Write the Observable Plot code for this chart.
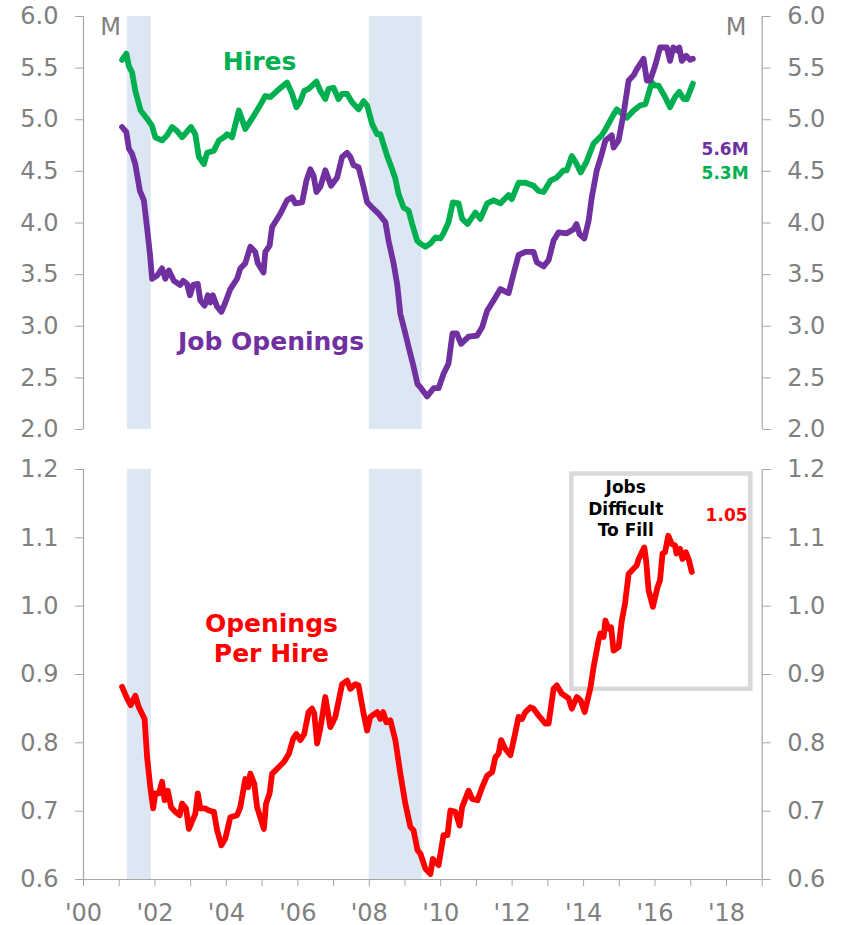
<!DOCTYPE html>
<html>
<head>
<meta charset="utf-8">
<script src="https://cdn.jsdelivr.net/npm/d3@7"></script>
<script src="https://cdn.jsdelivr.net/npm/@observablehq/plot@0.6"></script>
<style>
  html, body { margin: 0; padding: 0; background: #fff; }
  #chart { width: 846px; }
  #chart svg { display: block; overflow: visible; }
</style>
</head>
<body>
<div id="chart"></div>
<script>
// ---- Data ----
const recessions = [[2001.23, 2001.90], [2008.0, 2009.48]];

const hires = [
  [2001.08,5.58],[2001.20,5.64],[2001.27,5.52],[2001.36,5.46],[2001.45,5.28],[2001.60,5.09],[2001.78,5.01],[2001.92,4.94],
  [2002.01,4.83],[2002.20,4.80],[2002.34,4.85],[2002.48,4.93],[2002.62,4.89],[2002.76,4.83],[2003.01,4.93],[2003.13,4.86],
  [2003.23,4.64],[2003.37,4.57],[2003.46,4.68],[2003.65,4.70],[2003.79,4.80],[2003.93,4.83],[2004.02,4.86],[2004.16,4.83],
  [2004.35,5.09],[2004.53,4.91],[2004.77,5.04],[2004.91,5.12],[2005.09,5.23],[2005.23,5.22],[2005.42,5.28],[2005.70,5.36],
  [2005.84,5.25],[2005.96,5.12],[2006.07,5.18],[2006.18,5.28],[2006.30,5.30],[2006.40,5.33],[2006.52,5.37],[2006.63,5.28],
  [2006.77,5.20],[2006.86,5.30],[2007.00,5.31],[2007.14,5.20],[2007.24,5.25],[2007.38,5.25],[2007.52,5.17],[2007.70,5.10],
  [2007.84,5.18],[2007.94,5.14],[2008.08,4.96],[2008.22,4.86],[2008.31,4.86],[2008.50,4.65],[2008.64,4.52],[2008.73,4.43],
  [2008.82,4.28],[2008.96,4.15],[2009.10,4.12],[2009.20,3.99],[2009.34,3.83],[2009.43,3.80],[2009.57,3.77],[2009.71,3.80],
  [2009.85,3.86],[2009.99,3.85],[2010.08,3.90],[2010.22,4.01],[2010.34,4.20],[2010.50,4.19],[2010.60,4.04],[2010.75,3.99],
  [2010.97,4.10],[2011.11,4.04],[2011.30,4.19],[2011.48,4.22],[2011.67,4.19],[2011.90,4.27],[2011.99,4.23],[2012.18,4.39],
  [2012.37,4.39],[2012.60,4.36],[2012.74,4.31],[2012.88,4.30],[2013.07,4.41],[2013.25,4.44],[2013.44,4.51],[2013.53,4.51],
  [2013.67,4.65],[2013.81,4.57],[2013.92,4.49],[2014.09,4.60],[2014.28,4.77],[2014.51,4.85],[2014.65,4.93],[2014.82,5.04],
  [2014.93,5.10],[2015.07,5.06],[2015.21,5.02],[2015.40,5.09],[2015.59,5.14],[2015.73,5.15],[2015.91,5.36],[2016.00,5.33],
  [2016.10,5.33],[2016.28,5.22],[2016.42,5.12],[2016.56,5.22],[2016.68,5.27],[2016.80,5.20],[2016.89,5.20],[2016.98,5.28],
  [2017.06,5.35]
];

const openings = [
  [2001.08,4.93],[2001.20,4.88],[2001.27,4.72],[2001.36,4.67],[2001.45,4.57],[2001.58,4.31],[2001.69,4.22],[2001.78,3.95],
  [2001.86,3.70],[2001.92,3.46],[2002.06,3.49],[2002.20,3.56],[2002.29,3.46],[2002.39,3.54],[2002.53,3.44],[2002.71,3.40],
  [2002.79,3.44],[2002.90,3.41],[2002.98,3.30],[2003.07,3.40],[2003.20,3.41],[2003.27,3.25],[2003.39,3.20],[2003.48,3.30],
  [2003.55,3.23],[2003.62,3.30],[2003.74,3.19],[2003.86,3.14],[2003.97,3.23],[2004.11,3.36],[2004.30,3.46],[2004.39,3.56],
  [2004.53,3.61],[2004.67,3.77],[2004.81,3.72],[2004.88,3.61],[2005.04,3.52],[2005.09,3.72],[2005.21,3.78],[2005.28,3.96],
  [2005.51,4.09],[2005.70,4.22],[2005.84,4.25],[2005.93,4.19],[2006.12,4.20],[2006.24,4.41],[2006.35,4.52],[2006.44,4.46],
  [2006.52,4.30],[2006.63,4.35],[2006.77,4.51],[2006.93,4.36],[2007.10,4.44],[2007.24,4.64],[2007.38,4.68],[2007.47,4.64],
  [2007.56,4.56],[2007.70,4.54],[2007.84,4.35],[2007.94,4.20],[2008.08,4.15],[2008.26,4.09],[2008.45,4.01],[2008.54,3.83],
  [2008.68,3.61],[2008.78,3.41],[2008.87,3.12],[2009.01,2.93],[2009.10,2.80],[2009.24,2.61],[2009.35,2.44],[2009.43,2.41],
  [2009.62,2.32],[2009.80,2.40],[2009.94,2.40],[2010.08,2.54],[2010.22,2.64],[2010.33,2.93],[2010.45,2.93],[2010.57,2.83],
  [2010.78,2.90],[2011.02,2.91],[2011.16,2.99],[2011.30,3.15],[2011.48,3.25],[2011.67,3.36],[2011.90,3.32],[2012.04,3.51],
  [2012.18,3.69],[2012.37,3.72],[2012.60,3.72],[2012.69,3.62],[2012.88,3.58],[2013.02,3.64],[2013.16,3.83],[2013.30,3.91],
  [2013.53,3.90],[2013.72,3.94],[2013.80,3.99],[2013.89,3.89],[2014.02,3.85],[2014.14,4.02],[2014.23,4.25],[2014.37,4.51],
  [2014.51,4.67],[2014.61,4.80],[2014.79,4.85],[2014.84,4.73],[2014.98,4.80],[2015.12,5.06],[2015.26,5.38],[2015.40,5.43],
  [2015.49,5.49],[2015.68,5.59],[2015.77,5.38],[2015.86,5.38],[2016.00,5.52],[2016.14,5.70],[2016.33,5.70],[2016.42,5.57],
  [2016.51,5.70],[2016.63,5.67],[2016.68,5.70],[2016.75,5.57],[2016.87,5.62],[2016.98,5.58],[2017.06,5.59]
];

const ratio = [
  [2001.08,0.882],[2001.22,0.865],[2001.32,0.855],[2001.45,0.869],[2001.55,0.852],[2001.71,0.835],[2001.78,0.779],[2001.87,0.735],
  [2001.95,0.704],[2002.01,0.726],[2002.11,0.726],[2002.20,0.743],[2002.27,0.716],[2002.36,0.730],[2002.45,0.706],[2002.57,0.699],
  [2002.69,0.694],[2002.76,0.711],[2002.87,0.704],[2002.95,0.674],[2003.07,0.689],[2003.13,0.696],[2003.20,0.726],[2003.27,0.704],
  [2003.41,0.704],[2003.51,0.701],[2003.65,0.699],[2003.74,0.672],[2003.86,0.650],[2003.97,0.660],[2004.11,0.691],[2004.30,0.694],
  [2004.39,0.706],[2004.53,0.747],[2004.61,0.735],[2004.67,0.755],[2004.78,0.740],[2004.86,0.706],[2005.05,0.674],[2005.11,0.711],
  [2005.21,0.726],[2005.28,0.755],[2005.42,0.762],[2005.61,0.772],[2005.75,0.784],[2005.87,0.806],[2005.96,0.813],[2006.07,0.804],
  [2006.18,0.813],[2006.30,0.845],[2006.40,0.850],[2006.46,0.843],[2006.54,0.799],[2006.63,0.821],[2006.77,0.867],[2006.91,0.823],
  [2007.05,0.838],[2007.24,0.886],[2007.38,0.891],[2007.47,0.879],[2007.61,0.886],[2007.70,0.884],[2007.84,0.843],[2007.94,0.818],
  [2008.03,0.838],[2008.22,0.845],[2008.31,0.835],[2008.39,0.845],[2008.48,0.830],[2008.59,0.833],[2008.73,0.804],[2008.87,0.755],
  [2009.01,0.711],[2009.15,0.677],[2009.24,0.672],[2009.35,0.643],[2009.43,0.638],[2009.57,0.616],[2009.71,0.608],[2009.78,0.630],
  [2009.94,0.621],[2010.08,0.665],[2010.19,0.665],[2010.27,0.701],[2010.41,0.699],[2010.53,0.679],[2010.60,0.706],[2010.78,0.730],
  [2010.88,0.718],[2011.03,0.716],[2011.16,0.735],[2011.30,0.752],[2011.44,0.757],[2011.53,0.779],[2011.62,0.784],[2011.69,0.804],
  [2011.81,0.791],[2011.95,0.782],[2012.06,0.808],[2012.18,0.838],[2012.28,0.835],[2012.37,0.845],[2012.51,0.852],[2012.60,0.850],
  [2012.74,0.840],[2012.93,0.828],[2013.02,0.828],[2013.16,0.879],[2013.25,0.884],[2013.39,0.872],[2013.58,0.865],[2013.67,0.850],
  [2013.81,0.867],[2013.92,0.862],[2014.03,0.845],[2014.19,0.880],[2014.28,0.911],[2014.42,0.950],[2014.47,0.960],[2014.56,0.955],
  [2014.61,0.979],[2014.70,0.967],[2014.77,0.969],[2014.84,0.935],[2014.98,0.940],[2015.07,0.979],[2015.16,1.004],[2015.26,1.047],
  [2015.40,1.055],[2015.49,1.060],[2015.54,1.069],[2015.70,1.086],[2015.75,1.067],[2015.82,1.023],[2015.94,0.999],[2016.07,1.028],
  [2016.14,1.038],[2016.21,1.077],[2016.28,1.079],[2016.37,1.103],[2016.47,1.091],[2016.56,1.089],[2016.60,1.077],[2016.70,1.084],
  [2016.77,1.069],[2016.86,1.079],[2016.94,1.069],[2017.03,1.050]
];

const topTicks = [2.0, 2.5, 3.0, 3.5, 4.0, 4.5, 5.0, 5.5, 6.0];
const bottomTicks = [0.6, 0.7, 0.8, 0.9, 1.0, 1.1, 1.2];
const yearTicks = d3.range(2000, 2020);
const yearLabel = d => (d % 2 === 0 && d < 2019) ? "'" + String(d).slice(2) : "";

// ---- Styling ----
const GREEN = "#00b050", PURPLE = "#7030a0", RED = "#ff0000";
const SHADE = "#dde7f4", AXIS = "#a6a6a6", TEXT = "#808080";
const FONT = "DejaVu Sans";
const LW = 5.8;

const common = {
  width: 846,
  marginLeft: 83,
  marginRight: 84.3,
  x: {domain: [2000, 2019], axis: null},
  style: {fontFamily: FONT, background: "white", overflow: "visible"}
};

const yAxes = (ticks) => [
  Plot.axisY(ticks, {anchor: "left", tickSize: 8, tickPadding: 17, tickFormat: d3.format(".1f"),
    stroke: AXIS, fill: TEXT, fontSize: 24}),
  Plot.axisY(ticks, {anchor: "right", tickSize: 8, tickPadding: 17, tickFormat: d3.format(".1f"),
    stroke: AXIS, fill: TEXT, fontSize: 24, textAnchor: "start"})
];

const lineStyle = {strokeWidth: LW, strokeLinejoin: "round", strokeLinecap: "round"};

const topPlot = Plot.plot({
  ...common,
  height: 440,
  marginTop: 16,
  marginBottom: 11,
  y: {domain: [2, 6], axis: null},
  marks: [
    Plot.rect(recessions, {x1: d => d[0], x2: d => d[1], y1: 2, y2: 6, fill: SHADE}),
    Plot.ruleX([2000, 2019], {y1: 2, y2: 6, stroke: AXIS, strokeWidth: 1.2}),
    ...yAxes(topTicks),
    Plot.line(hires, {x: d => d[0], y: d => d[1], stroke: GREEN, ...lineStyle}),
    Plot.line(openings, {x: d => d[0], y: d => d[1], stroke: PURPLE, ...lineStyle}),
    Plot.text(["M"], {x: 2000.76, y: 5.816, lineAnchor: "bottom", fill: TEXT, fontSize: 24}),
    Plot.text(["M"], {x: 2018.27, y: 5.816, lineAnchor: "bottom", fill: TEXT, fontSize: 24}),
    Plot.text(["Hires"], {x: 2004.93, y: 5.477, lineAnchor: "bottom", fill: GREEN, fontSize: 25, fontWeight: "bold"}),
    Plot.text(["Job Openings"], {x: 2005.25, y: 2.77, lineAnchor: "bottom", fill: PURPLE, fontSize: 25, fontWeight: "bold"}),
    Plot.text(["5.6M"], {x: 2018.62, y: 4.654, lineAnchor: "bottom", textAnchor: "end", fill: PURPLE, fontSize: 17, fontWeight: "bold"}),
    Plot.text(["5.3M"], {x: 2018.62, y: 4.428, lineAnchor: "bottom", textAnchor: "end", fill: GREEN, fontSize: 17, fontWeight: "bold"})
  ]
});

const bottomPlot = Plot.plot({
  ...common,
  height: 485,
  marginTop: 29,
  marginBottom: 46,
  y: {domain: [0.6, 1.2], axis: null},
  marks: [
    Plot.rect(recessions, {x1: d => d[0], x2: d => d[1], y1: 0.6, y2: 1.2, fill: SHADE}),
    Plot.ruleX([2000, 2019], {y1: 0.6, y2: 1.2, stroke: AXIS, strokeWidth: 1.2}),
    Plot.ruleY([0.6], {x1: 2000, x2: 2019, stroke: AXIS, strokeWidth: 1.2}),
    ...yAxes(bottomTicks),
    Plot.axisX(yearTicks, {anchor: "bottom", tickSize: 7, tickPadding: 17, tickFormat: yearLabel,
      stroke: AXIS, fill: TEXT, fontSize: 24}),
    Plot.rect([0], {x1: 2013.67, x2: 2018.68, y1: 0.8784, y2: 1.1934, fill: "none", stroke: "#d9d9d9", strokeWidth: 4.5}),
    Plot.line(ratio, {x: d => d[0], y: d => d[1], stroke: RED, ...lineStyle}),
    Plot.text(["Openings\nPer Hire"], {x: 2005.26, y: 0.918, lineAnchor: "bottom", lineHeight: 1.2, fill: RED, fontSize: 25, fontWeight: "bold"}),
    Plot.text(["Jobs\nDifficult\nTo Fill"], {x: 2015.18, y: 1.102, lineAnchor: "bottom", lineHeight: 1.28, fill: "black", fontSize: 17, fontWeight: "bold"}),
    Plot.text(["1.05"], {x: 2018.59, y: 1.124, lineAnchor: "bottom", textAnchor: "end", fill: RED, fontSize: 17, fontWeight: "bold"})
  ]
});

const chart = document.getElementById("chart");
chart.appendChild(topPlot);
chart.appendChild(bottomPlot);
</script>
</body>
</html>
